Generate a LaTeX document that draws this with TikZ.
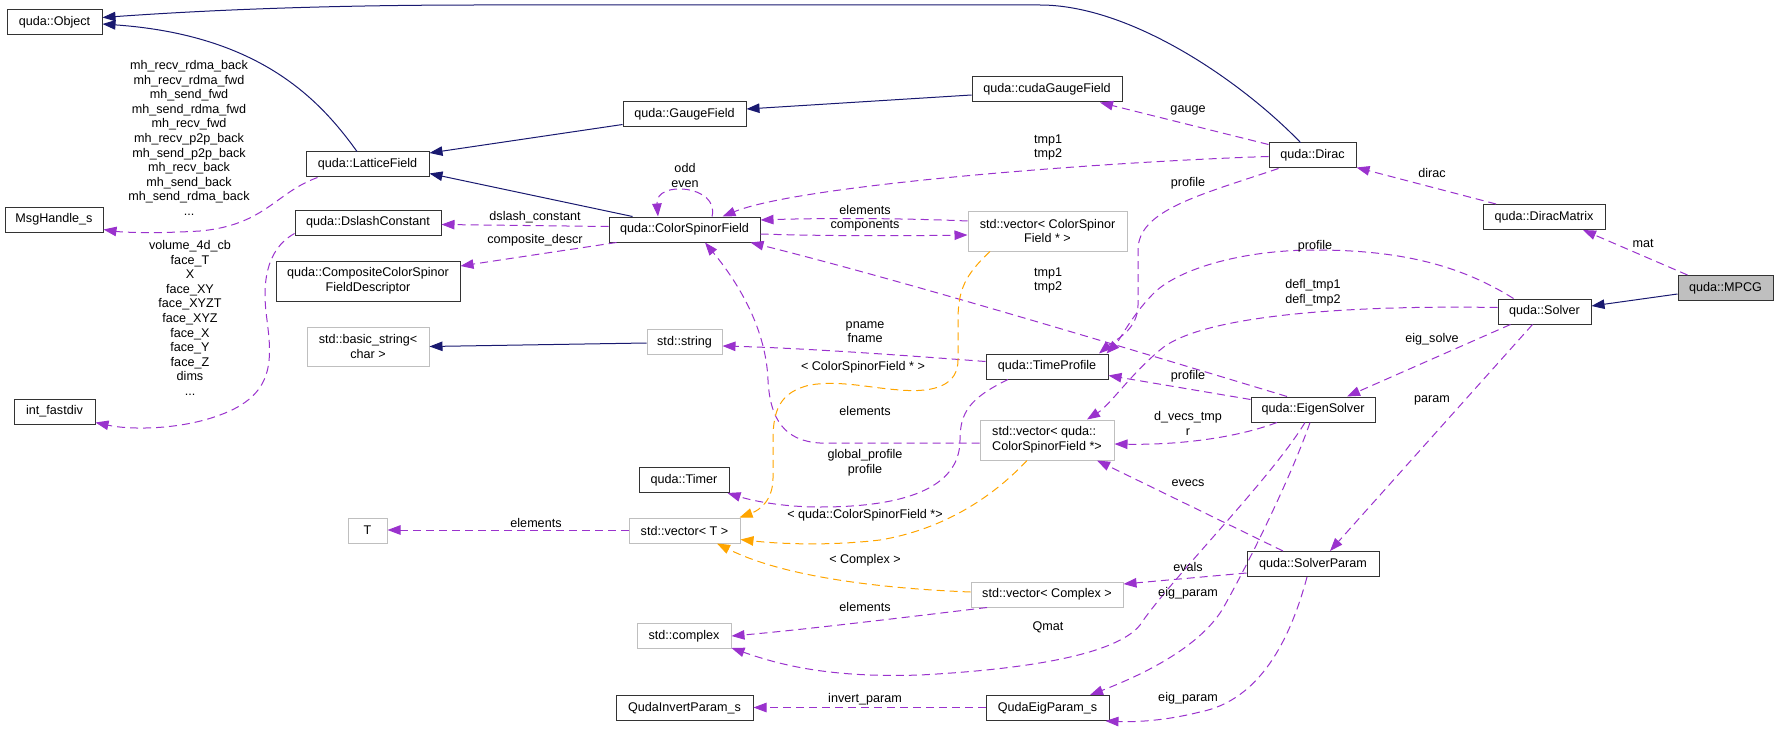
\documentclass[tikz,border=0pt]{standalone}
\usepackage{fontspec}
\setmainfont{Liberation Sans}
\usetikzlibrary{arrows.meta}
\definecolor{navyc}{HTML}{191970}
\definecolor{purp}{HTML}{9A32CD}
\definecolor{orng}{HTML}{FFA500}
\definecolor{grayb}{HTML}{BFBFBF}
\newcommand{\nfont}{\fontsize{12.6pt}{14.6pt}\selectfont}
\begin{document}
\begin{tikzpicture}[x=1pt,y=-1pt,
  box/.style={draw=black!80, line width=1pt, fill=white, inner sep=0pt, align=center, font=\nfont, minimum height=25pt},
  gbox/.style={box, draw=grayb},
  inh/.style={draw=navyc, line width=1pt, -{Triangle[length=13pt,width=9.5pt]}},
  use/.style={draw=purp, line width=1pt, dash pattern=on 8pt off 5pt, -{Triangle[length=13pt,width=9.5pt]}},
  tmpl/.style={use, draw=orng},
  lbl/.style={align=center, inner sep=0pt, font=\nfont}]
\useasboundingbox (0,0) rectangle (1779,730);

% nodes
\node[box, minimum width=95pt] (object) at (54.5,22.5) {quda::Object};
\node[box, minimum width=123pt] (lattice) at (367.5,164.5) {quda::LatticeField};
\node[box, minimum width=98pt] (msg) at (54,219.5) {MsgHandle\_s};
\node[box, minimum width=146pt] (dslash) at (368,222.5) {quda::DslashConstant};
\node[box, minimum width=184pt, minimum height=40pt] (composite) at (368,281) {quda::CompositeColorSpinor\\FieldDescriptor};
\node[gbox, minimum width=122pt, minimum height=39pt] (basicstr) at (368,346.5) {std::basic\_string<\\char >};
\node[box, minimum width=81pt] (intfd) at (54.5,411.5) {int\_fastdiv};
\node[gbox, minimum width=39pt] (T) at (367.5,530.5) {T};
\node[box, minimum width=123pt] (gauge) at (684.5,114.5) {quda::GaugeField};
\node[box, minimum width=151pt] (csf) at (684.5,229.5) {quda::ColorSpinorField};
\node[gbox, minimum width=75pt] (string) at (684.5,342) {std::string};
\node[box, minimum width=90pt] (timer) at (684,480) {quda::Timer};
\node[gbox, minimum width=111pt] (vecT) at (684.5,530.5) {std::vector< T >};
\node[gbox, minimum width=94pt] (complex) at (684,636) {std::complex};
\node[box, minimum width=137pt] (qip) at (684.5,708) {QudaInvertParam\_s};
\node[box, minimum width=150pt] (cudagauge) at (1047,89.5) {quda::cudaGaugeField};
\node[gbox, minimum width=159pt, minimum height=40pt] (vecCSF) at (1047.5,231) {std::vector< ColorSpinor\\Field * >};
\node[box, minimum width=122pt] (tp) at (1047,366.5) {quda::TimeProfile};
\node[gbox, minimum width=134pt, minimum height=40pt, align=left] (vecq) at (1047,440) {std::vector< quda::\\ColorSpinorField *>};
\node[gbox, minimum width=152pt] (vecComplex) at (1047,594.5) {std::vector< Complex >};
\node[box, minimum width=123pt] (qep) at (1047.5,708) {QudaEigParam\_s};
\node[box, minimum width=87pt] (dirac) at (1312.5,155.5) {quda::Dirac};
\node[box, minimum width=124pt] (eigsolver) at (1313,409.5) {quda::EigenSolver};
\node[box, minimum width=132pt] (solverparam) at (1313,564) {quda::SolverParam};
\node[box, minimum width=122pt] (diracmatrix) at (1544,217) {quda::DiracMatrix};
\node[box, minimum width=93pt] (solver) at (1544.5,311.5) {quda::Solver};
\node[box, minimum width=95pt, fill=grayb] (mpcg) at (1725.5,288) {quda::MPCG};

% inheritance
\draw[inh] ([xshift=-12pt]dirac.north) .. controls (1240,80) and (1130,5) .. (1040,5) -- (480,5) .. controls (300,5) and (180,12) .. ([yshift=5pt]object.east);
\draw[inh] ([xshift=-10.5pt]lattice.north) .. controls (320,100) and (260,35) .. ([yshift=-1.5pt]object.east);
\draw[inh] ([yshift=-10pt]gauge.west) -- ([yshift=11.5pt]lattice.east);
\draw[inh] ([xshift=-52pt]csf.north) -- ([yshift=-9pt]lattice.east);
\draw[inh] ([yshift=-5.5pt]cudagauge.west) -- ([yshift=5.5pt]gauge.east);
\draw[inh] ([yshift=-6pt]mpcg.west) -- ([yshift=5.5pt]solver.east);
\draw[inh] ([yshift=-1pt]string.west) -- (basicstr.east);

% usage
\draw[use] ([xshift=-50pt]lattice.south) .. controls (275,193) and (265,225) .. (200,231) .. controls (150,234) and (120,232) .. ([yshift=-10pt]msg.east);
\node[lbl] (l8) at (189,138) {mh\_recv\_rdma\_back\\mh\_recv\_rdma\_fwd\\mh\_send\_fwd\\mh\_send\_rdma\_fwd\\mh\_recv\_fwd\\mh\_recv\_p2p\_back\\mh\_send\_p2p\_back\\mh\_recv\_back\\mh\_send\_back\\mh\_send\_rdma\_back\\...};
\draw[use] ([yshift=2pt]dslash.south west) .. controls (265,250) and (262,285) .. (267,320) .. controls (272,360) and (275,395) .. (220,415) .. controls (180,430) and (130,430) .. ([yshift=-11pt]intfd.east);
\node[lbl] (l9) at (190,318) {volume\_4d\_cb\\face\_T\\X\\face\_XY\\face\_XYZT\\face\_XYZ\\face\_X\\face\_Y\\face\_Z\\dims\\...};
\draw[use] ([yshift=3pt]csf.west) -- ([yshift=-2pt]dslash.east);
\node[lbl] (l10) at (535,217) {dslash\_constant};
\draw[use] ([xshift=8pt]csf.south west) -- ([yshift=15pt]composite.east);
\node[lbl] (l11) at (535,240) {composite\_descr};
\draw[use] ([xshift=27.5pt]csf.north) .. controls (720,185) and (655,180) .. ([xshift=-26.5pt]csf.north);
\node[lbl] (l12) at (685,175.5) {odd\\even};
\draw[use] ([yshift=10pt]vecCSF.west) .. controls (900,218) and (820,218) .. ([yshift=9.5pt]csf.east);
\node[lbl] (l13) at (865,210) {elements};
\draw[use] ([yshift=-4.5pt]csf.east) .. controls (820,236) and (900,236) .. ([yshift=-4pt]vecCSF.west);
\node[lbl] (l14) at (865,226) {components};
\draw[use] ([yshift=-1pt]dirac.west) .. controls (1100,162) and (800,185) .. ([xshift=38pt]csf.north);
\node[lbl] (l15) at (1048,147.5) {tmp1\\tmp2};
\draw[use] ([yshift=-2pt]dirac.north west) -- ([xshift=53pt]cudagauge.south);
\node[lbl] (l16) at (1188,110) {gauge};
\draw[use] ([xshift=-34pt]dirac.south) .. controls (1200,195) and (1138,210) .. (1138,250) -- (1138,305) .. controls (1138,330) and (1115,340) .. ([xshift=52pt]tp.north);
\node[lbl] (l17) at (1188,183) {profile};
\draw[use] ([xshift=-48pt]diracmatrix.north) -- ([yshift=-12pt]dirac.east);
\node[lbl] (l18) at (1432,173) {dirac};
\draw[use] ([xshift=-38pt]mpcg.north) -- ([xshift=39pt]diracmatrix.south);
\node[lbl] (l19) at (1643,243) {mat};
\draw[use] ([xshift=-31pt]solver.north) .. controls (1460,265) and (1400,250) .. (1315,250) .. controls (1240,250) and (1175,270) .. (1152,295) .. controls (1130,318) and (1120,340) .. ([xshift=-2pt]tp.north east);
\node[lbl] (l20) at (1315,246) {profile};
\draw[use] ([yshift=4pt]solver.west) .. controls (1350,305) and (1200,315) .. (1160,350) .. controls (1130,375) and (1110,405) .. ([xshift=40pt]vecq.north);
\node[lbl] (l21) at (1313,293) {defl\_tmp1\\defl\_tmp2};
\draw[use] ([xshift=-34pt]solver.south) -- ([xshift=34pt]eigsolver.north);
\node[lbl] (l22) at (1432,339) {eig\_solve};
\draw[use] ([xshift=-12pt]solver.south) -- ([xshift=17pt]solverparam.north);
\node[lbl] (l23) at (1432,400) {param};
\draw[use] ([xshift=-26pt]eigsolver.north) .. controls (1100,340) and (900,280) .. ([xshift=66pt]csf.south);
\node[lbl] (l24) at (1048,280.5) {tmp1\\tmp2};
\draw[use] ([yshift=10pt]eigsolver.west) -- ([yshift=-9pt]tp.east);
\node[lbl] (l25) at (1188,376) {profile};
\draw[use] ([xshift=-36pt]eigsolver.south) .. controls (1230,440) and (1170,445) .. ([yshift=-4pt]vecq.east);
\node[lbl] (l26) at (1188,423.5) {d\_vecs\_tmp\\r};
\draw[use] ([xshift=-8pt]eigsolver.south) .. controls (1270,480) and (1170,580) .. (1140,625) .. controls (1120,650) and (1050,668) .. (920,675) .. controls (830,678) and (780,665) .. ([yshift=-12pt]complex.east);
\node[lbl] (l27) at (1048,627) {Qmat};
\draw[use] ([xshift=-3pt]eigsolver.south) .. controls (1290,480) and (1245,570) .. (1222,610) .. controls (1200,645) and (1150,672) .. ([xshift=42.5pt]qep.north);
\node[lbl] (l28) at (1188,593) {eig\_param};
\draw[use] ([xshift=-30pt]solverparam.north) -- ([xshift=50pt]vecq.south);
\node[lbl] (l29) at (1188,483) {evecs};
\draw[use] ([yshift=-9pt]solverparam.west) -- ([yshift=10.5pt]vecComplex.east);
\node[lbl] (l30) at (1188,567) {evals};
\draw[use] ([xshift=-6pt]solverparam.south) .. controls (1290,640) and (1260,700) .. (1200,712) .. controls (1160,722) and (1130,722) .. ([xshift=-4pt]qep.south east);
\node[lbl] (l31) at (1188,698) {eig\_param};
\draw[use] ([yshift=0.5pt]qep.west) -- ([yshift=0.5pt]qip.east);
\node[lbl] (l32) at (865,699) {invert\_param};
\draw[use] ([xshift=-60pt]vecComplex.south) .. controls (900,618) and (800,630) .. (complex.east);
\node[lbl] (l33) at (865,607) {elements};
\draw[use] ([yshift=0.5pt]vecT.west) -- ([yshift=0.5pt]T.east);
\node[lbl] (l34) at (536,523) {elements};
\draw[use] ([yshift=5pt]tp.west) .. controls (900,355) and (800,348) .. ([yshift=-4pt]string.east);
\node[lbl] (l35) at (865,332) {pname\\fname};
\draw[use] ([xshift=-39pt]tp.south) .. controls (970,398) and (960,412) .. (960,440) .. controls (960,490) and (900,507) .. (820,507) .. controls (780,507) and (750,500) .. ([xshift=-2pt]timer.south east);
\node[lbl] (l36) at (865,462.5) {global\_profile\\profile};
\draw[use] ([yshift=-3pt]vecq.west) -- (820,443) .. controls (785,441) and (770,420) .. (768,380) .. controls (766,330) and (740,285) .. ([xshift=20.5pt]csf.south);
\node[lbl] (l37) at (865,411) {elements};

% template instances
\draw[tmpl] ([xshift=-57.5pt]vecCSF.south) .. controls (965,275) and (958,290) .. (958,320) -- (958,360) .. controls (958,385) and (935,393) .. (900,390) .. controls (870,388) and (840,380) .. (810,385) .. controls (780,392) and (773,410) .. (773,440) -- (773,478) .. controls (773,500) and (760,510) .. ([xshift=-1pt]vecT.north east);
\node[lbl] (l38) at (863,367) {< ColorSpinorField * >};
\draw[tmpl] ([xshift=-20pt]vecq.south) .. controls (990,500) and (940,530) .. (880,540) .. controls (830,546) and (780,544) .. ([yshift=-9pt]vecT.east);
\node[lbl] (l39) at (865,515) {< quda::ColorSpinorField *>};
\draw[tmpl] ([yshift=2.5pt]vecComplex.west) .. controls (870,588) and (780,575) .. ([xshift=32.5pt]vecT.south);
\node[lbl] (l40) at (865,560) {< Complex >};
\end{tikzpicture}
\end{document}
